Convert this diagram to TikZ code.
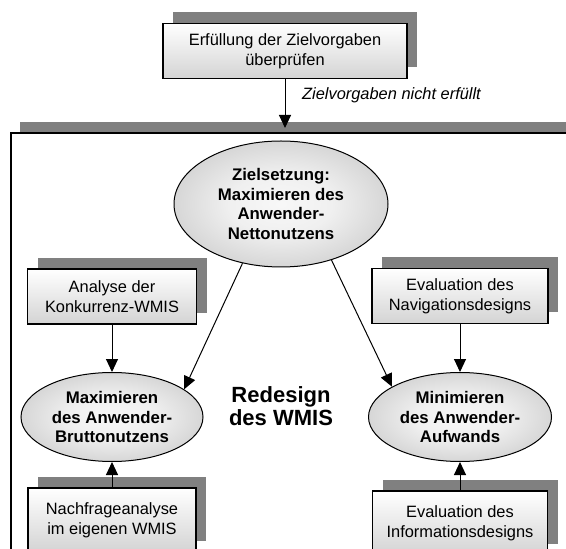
\documentclass[tikz,border=0pt]{standalone}
\usepackage{fontspec}
\setmainfont{Liberation Sans}
\usetikzlibrary{shapes.geometric,shadows,arrows.meta}

\pgfdeclareradialshading{goalshade}{\pgfpoint{0bp}{0bp}}{color(0bp)=(black!3); color(12bp)=(black!6); color(50bp)=(black!35)}

\tikzset{
  taskbox/.style={draw, line width=0.7pt, top color=white, bottom color=black!17,
    minimum height=27.5pt, align=center, inner sep=0pt,
    general shadow={fill=black!50, shadow xshift=5pt, shadow yshift=5.5pt}},
  goal/.style={ellipse, draw, line width=0.5pt, shade, shading=goalshade,
    align=center, inner sep=0pt, font=\fontsize{8.4}{9.9}\selectfont\bfseries},
  link/.style={line width=0.5pt, -{Triangle[width=6pt,length=6.5pt]}}
}

\begin{document}
\begin{tikzpicture}[x=0.5pt, y=-0.5pt, font=\fontsize{8.2}{10}\selectfont]
\useasboundingbox (0,0) rectangle (566,549);

% frame of the redesign block
\fill[black!50] (20,122) rectangle (600,600);
\draw[fill=white, line width=0.7pt] (11,133) rectangle (600,600);

\node[taskbox, minimum width=122pt] (check) at (285,51) {Erfüllung der Zielvorgaben\\überprüfen};
\coordinate (entry) at (285,128);

\node[goal, minimum width=107pt, minimum height=63pt] (net) at (281,204) {Zielsetzung:\\Maximieren des\\Anwender-\\Nettonutzens};
\node[goal, minimum width=91pt, minimum height=44.5pt] (gross) at (112,417) {Maximieren\\des Anwender-\\Bruttonutzens};
\node[goal, minimum width=91.5pt, minimum height=44.5pt] (effort) at (460,417) {Minimieren\\des Anwender-\\Aufwands};

\node[taskbox, minimum width=84.5pt] (rival) at (112,296.5) {Analyse der\\Konkurrenz-WMIS};
\node[taskbox, minimum width=88pt] (navi) at (460,296) {Evaluation des\\Navigationsdesigns};
\node[taskbox, minimum width=84pt, minimum height=32pt] (demand) at (112,520) {Nachfrageanalyse\\im eigenen WMIS};
\node[taskbox, minimum width=87.5pt, minimum height=32pt] (info) at (460,523) {Evaluation des\\Informationsdesigns};

\node[font=\fontsize{11}{11.5}\selectfont\bfseries, align=center] (redesign) at (281,406) {Redesign\\des WMIS};

% arrows
\draw[link] (check) -- (entry) node[pos=0.33, anchor=west, xshift=5pt, font=\fontsize{8.2}{10}\selectfont\itshape] {Zielvorgaben nicht erfüllt};
\draw[link] (net.237) -- (gross.21);
\draw[link] (net.312) -- (effort.156);
\draw[link] (rival) -- (gross);
\draw[link] (demand) -- (gross);
\draw[link] (navi) -- (effort);
\draw[link] (info) -- (effort);
\end{tikzpicture}
\end{document}
